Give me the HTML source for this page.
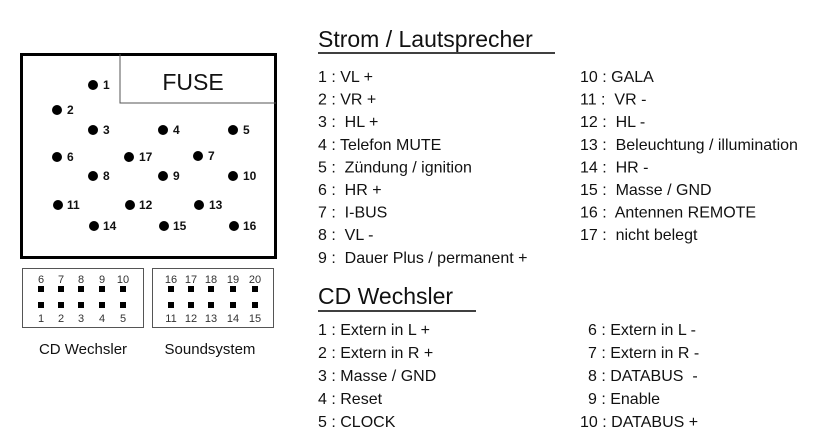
<!DOCTYPE html>
<html><head><meta charset="utf-8"><style>
html,body{margin:0;padding:0;background:#fff;}
svg{display:block;}
text{font-family:"Liberation Sans",Arial,sans-serif;fill:#111;white-space:pre;}
.b{font-weight:bold;font-size:12px;}
.s{font-size:11px;fill:#333;}
.t{font-size:16px;}
.h{font-size:23px;}
</style></head><body>
<svg width="829" height="448" viewBox="0 0 829 448" xmlns="http://www.w3.org/2000/svg" xml:space="preserve">
<rect x="0" y="0" width="829" height="448" fill="#fff"/>
<rect x="21.5" y="54.5" width="254" height="203" fill="none" stroke="#000" stroke-width="3"/>
<path d="M120 54 V103 H276" fill="none" stroke="#555" stroke-width="1"/>
<text x="193" y="90" text-anchor="middle" style="font-size:23px">FUSE</text>
<g fill="#000">
<circle cx="93" cy="85" r="5"/><circle cx="57" cy="110" r="5"/>
<circle cx="93" cy="130" r="5"/><circle cx="163" cy="130" r="5"/><circle cx="233" cy="130" r="5"/>
<circle cx="57" cy="157" r="5"/><circle cx="129" cy="157" r="5"/><circle cx="198" cy="156" r="5"/>
<circle cx="93" cy="176" r="5"/><circle cx="163" cy="176" r="5"/><circle cx="233" cy="176" r="5"/>
<circle cx="58" cy="205" r="5"/><circle cx="130" cy="205" r="5"/><circle cx="199" cy="205" r="5"/>
<circle cx="94" cy="226" r="5"/><circle cx="164" cy="226" r="5"/><circle cx="234" cy="226" r="5"/>
</g>
<text x="103" y="89" class="b">1</text><text x="67" y="114" class="b">2</text>
<text x="103" y="134" class="b">3</text><text x="173" y="134" class="b">4</text><text x="243" y="134" class="b">5</text>
<text x="67" y="161" class="b">6</text><text x="139" y="161" class="b">17</text><text x="208" y="160" class="b">7</text>
<text x="103" y="180" class="b">8</text><text x="173" y="180" class="b">9</text><text x="243" y="180" class="b">10</text>
<text x="67" y="209" class="b">11</text><text x="139" y="209" class="b">12</text><text x="209" y="209" class="b">13</text>
<text x="103" y="230" class="b">14</text><text x="173" y="230" class="b">15</text><text x="243" y="230" class="b">16</text>
<rect x="22.5" y="268.5" width="121" height="59" fill="none" stroke="#555"/>
<rect x="152.5" y="268.5" width="121" height="59" fill="none" stroke="#555"/>
<g fill="#000">
<rect x="38" y="286" width="6" height="6"/><rect x="58" y="286" width="6" height="6"/><rect x="78" y="286" width="6" height="6"/><rect x="99" y="286" width="6" height="6"/><rect x="120" y="286" width="6" height="6"/>
<rect x="38" y="302" width="6" height="6"/><rect x="58" y="302" width="6" height="6"/><rect x="78" y="302" width="6" height="6"/><rect x="99" y="302" width="6" height="6"/><rect x="120" y="302" width="6" height="6"/>
<rect x="168" y="286" width="6" height="6"/><rect x="188" y="286" width="6" height="6"/><rect x="208" y="286" width="6" height="6"/><rect x="230" y="286" width="6" height="6"/><rect x="252" y="286" width="6" height="6"/>
<rect x="168" y="302" width="6" height="6"/><rect x="188" y="302" width="6" height="6"/><rect x="208" y="302" width="6" height="6"/><rect x="230" y="302" width="6" height="6"/><rect x="252" y="302" width="6" height="6"/>
</g>
<g text-anchor="middle">
<text x="41" y="283" class="s">6</text><text x="61" y="283" class="s">7</text><text x="81" y="283" class="s">8</text><text x="102" y="283" class="s">9</text><text x="123" y="283" class="s">10</text>
<text x="41" y="322" class="s">1</text><text x="61" y="322" class="s">2</text><text x="81" y="322" class="s">3</text><text x="102" y="322" class="s">4</text><text x="123" y="322" class="s">5</text>
<text x="171" y="283" class="s">16</text><text x="191" y="283" class="s">17</text><text x="211" y="283" class="s">18</text><text x="233" y="283" class="s">19</text><text x="255" y="283" class="s">20</text>
<text x="171" y="322" class="s">11</text><text x="191" y="322" class="s">12</text><text x="211" y="322" class="s">13</text><text x="233" y="322" class="s">14</text><text x="255" y="322" class="s">15</text>
</g>
<text x="83" y="354" text-anchor="middle" style="font-size:15px">CD Wechsler</text>
<text x="210" y="354" text-anchor="middle" style="font-size:15px">Soundsystem</text>

<text x="318" y="47" class="h">Strom / Lautsprecher</text>
<line x1="318" y1="53" x2="555" y2="53" stroke="#000" stroke-width="1.5"/>
<text x="318" y="82" class="t">1 : VL +</text>
<text x="318" y="104.6" class="t">2 : VR +</text>
<text x="318" y="127.2" class="t">3 :  HL +</text>
<text x="318" y="149.8" class="t">4 : Telefon MUTE</text>
<text x="318" y="172.4" class="t">5 :  Zündung / ignition</text>
<text x="318" y="195" class="t">6 :  HR +</text>
<text x="318" y="217.6" class="t">7 :  I-BUS</text>
<text x="318" y="240.2" class="t">8 :  VL -</text>
<text x="318" y="262.8" class="t">9 :  Dauer Plus / permanent +</text>
<text x="580" y="82" class="t">10 : GALA</text>
<text x="580" y="104.6" class="t">11 :  VR -</text>
<text x="580" y="127.2" class="t">12 :  HL -</text>
<text x="580" y="149.8" class="t">13 :  Beleuchtung / illumination</text>
<text x="580" y="172.4" class="t">14 :  HR -</text>
<text x="580" y="195" class="t">15 :  Masse / GND</text>
<text x="580" y="217.6" class="t">16 :  Antennen REMOTE</text>
<text x="580" y="240.2" class="t">17 :  nicht belegt</text>
<text x="318" y="304" class="h">CD Wechsler</text>
<line x1="318" y1="311" x2="476" y2="311" stroke="#000" stroke-width="1.5"/>
<text x="318" y="335" class="t">1 : Extern in L +</text>
<text x="318" y="358" class="t">2 : Extern in R +</text>
<text x="318" y="381" class="t">3 : Masse / GND</text>
<text x="318" y="404" class="t">4 : Reset</text>
<text x="318" y="427" class="t">5 : CLOCK</text>
<text x="588" y="335" class="t">6 : Extern in L -</text>
<text x="588" y="358" class="t">7 : Extern in R -</text>
<text x="588" y="381" class="t">8 : DATABUS  -</text>
<text x="588" y="404" class="t">9 : Enable</text>
<text x="580" y="427" class="t">10 : DATABUS +</text>
</svg>
</body></html>
